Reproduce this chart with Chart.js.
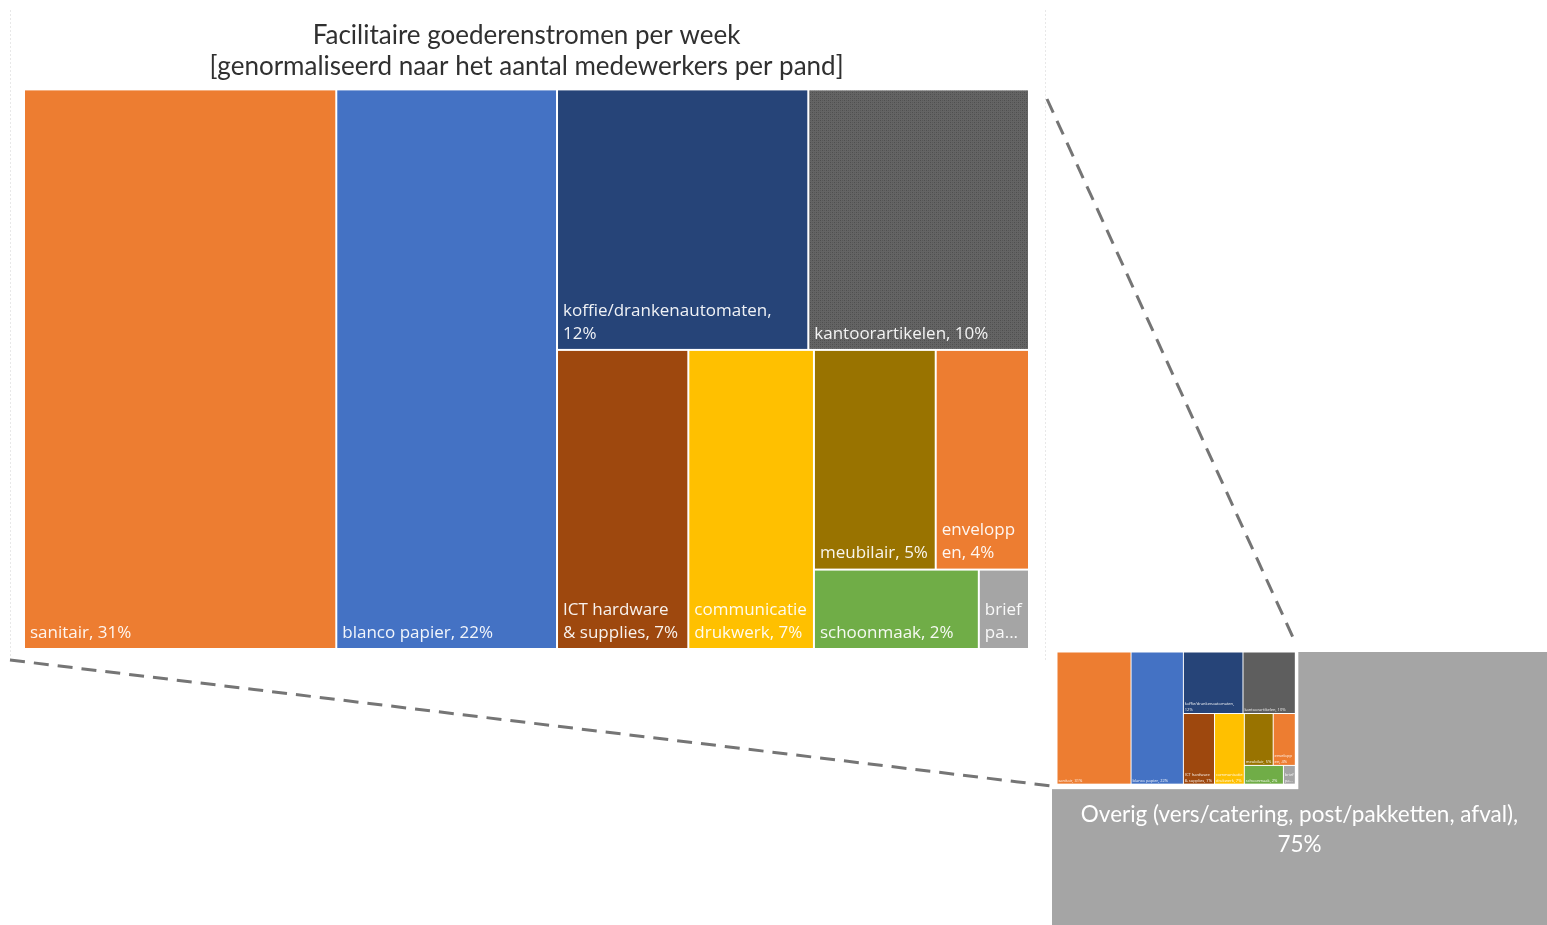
<!DOCTYPE html>
<html>
<head>
<meta charset="utf-8">
<script src="https://cdn.jsdelivr.net/npm/chart.js@4.4.1/dist/chart.umd.min.js"></script>
<style>
  html, body { margin: 0; padding: 0; background: #fff; }
  body { width: 1547px; height: 925px; position: relative; overflow: hidden; }
  canvas { position: absolute; display: block; }
  #main { left: 0; top: 0; }
  #zoom { left: 1052px; top: 644px; }
  svg { position: absolute; left: 0; top: 0; }
</style>
</head>
<body>
<canvas id="main" width="1050" height="665"></canvas>
<canvas id="zoom" width="495" height="281"></canvas>
<svg width="1547" height="925">
  <line x1="10.5" y1="10" x2="10.5" y2="660" stroke="#e8e8e8" stroke-width="1" stroke-dasharray="2 2"/>
  <line x1="1045.5" y1="10" x2="1045.5" y2="660" stroke="#e8e8e8" stroke-width="1" stroke-dasharray="2 2"/>
  <line x1="10" y1="660" x2="1052" y2="786" stroke="#757575" stroke-width="3" stroke-dasharray="15 9"/>
  <line x1="1047" y1="99" x2="1296" y2="644" stroke="#757575" stroke-width="3" stroke-dasharray="15 9"/>
</svg>
<script>
const titleLines = ['Facilitaire goederenstromen per week', '[genormaliseerd naar het aantal medewerkers per pand]'];
const categories = ['sanitair', 'blanco papier', 'koffie/drankenautomaten', 'kantoorartikelen',
  'ICT hardware & supplies', 'communicatie drukwerk', 'meubilair', 'enveloppen', 'schoonmaak', 'briefpapier'];
const values = [30.7, 21.7, 11.5, 10.1, 6.9, 6.6, 4.7, 3.6, 2.3, 0.7];
const overigLabel = 'Overig (vers/catering, post/pakketten, afval)';
// facilitaire stromen vs. overig, in %
const shares = [25, 75];

const palette = ['#ED7D31', '#4472C4', '#264478', '#5E5E5E', '#9E480E', '#FFC000', '#997300', '#ED7D31', '#70AD47', '#A5A5A5'];
const LABEL_FONT = '"Open Sans", sans-serif';
const WIDE_PENALTY = 2; // prefer upright cells so the labels fit

const total = values.reduce((a, b) => a + b, 0);
const labelText = (i) => categories[i] + ', ' + Math.round(values[i] / total * 100) + '%';

// speckled fill for kantoorartikelen
function speckle() {
  const c = document.createElement('canvas');
  c.width = 4; c.height = 4;
  const g = c.getContext('2d');
  g.fillStyle = '#646464';
  g.fillRect(0, 0, 4, 4);
  g.fillStyle = '#4e4e4e';
  g.fillRect(0, 0, 1, 1);
  g.fillRect(2, 2, 1, 1);
  g.fillStyle = '#585858';
  g.fillRect(2, 0, 1, 1);
  g.fillRect(0, 2, 1, 1);
  return c;
}

function rowScore(row, side, vertical) {
  const thick = row.reduce((a, b) => a + b, 0) / side;
  let worst = 0;
  row.forEach(a => {
    const len = a / thick;
    const cw = vertical ? thick : len;
    const ch = vertical ? len : thick;
    const r = cw > ch ? (cw / ch) * WIDE_PENALTY : ch / cw;
    worst = Math.max(worst, r);
  });
  return worst;
}

// squarified layout in a box of width ar and height 1
function squarify(vals, ar) {
  const sum = vals.reduce((a, b) => a + b, 0);
  const areas = vals.map(v => v * ar / sum);
  const rects = [];
  let x = 0, y = 0, w = ar, h = 1, i = 0;
  while (i < areas.length) {
    const vertical = w >= h;
    const side = vertical ? h : w;
    let row = [areas[i]];
    let best = rowScore(row, side, vertical);
    let j = i + 1;
    while (j < areas.length) {
      const next = row.concat(areas[j]);
      const s = rowScore(next, side, vertical);
      if (s > best) break;
      row = next; best = s; j++;
    }
    const thick = row.reduce((a, b) => a + b, 0) / side;
    let off = 0;
    row.forEach(a => {
      const len = a / thick;
      if (vertical) rects.push({ x0: x, y0: y + off, x1: x + thick, y1: y + off + len });
      else rects.push({ x0: x + off, y0: y, x1: x + off + len, y1: y + thick });
      off += len;
    });
    if (vertical) { x += thick; w -= thick; } else { y += thick; h -= thick; }
    i = j;
  }
  // back to 0..1 data units
  return rects.map(r => ({ x0: r.x0 / ar, x1: r.x1 / ar, y0: r.y0, y1: r.y1 }));
}

function wrapText(ctx, text, maxW, maxLines) {
  const words = text.split(' ');
  const lines = [];
  let cur = '';
  words.forEach(word => {
    const test = cur ? cur + ' ' + word : word;
    if (ctx.measureText(test).width <= maxW) { cur = test; return; }
    if (cur) lines.push(cur);
    cur = '';
    if (ctx.measureText(word).width <= maxW) { cur = word; return; }
    let part = '';
    for (const ch of word) {
      if (part && ctx.measureText(part + ch).width > maxW) { lines.push(part); part = ch; }
      else part += ch;
    }
    cur = part;
  });
  if (cur) lines.push(cur);
  if (lines.length > maxLines) {
    let last = lines[maxLines - 1];
    while (last.length > 1 && ctx.measureText(last + '...').width > maxW) last = last.slice(0, -1);
    lines.length = maxLines;
    lines[maxLines - 1] = last + '...';
  }
  return lines;
}

// cells + labels inside a pixel box; k scales fonts and gaps
function drawTreemap(ctx, box, k, fills) {
  const rects = squarify(values, box.w / box.h);
  rects.forEach((r, i) => {
    const left = box.x + r.x0 * box.w;
    const top = box.y + r.y0 * box.h;
    const w = (r.x1 - r.x0) * box.w;
    const h = (r.y1 - r.y0) * box.h;
    const gap = Math.max(0.5, k);
    ctx.fillStyle = fills[i];
    ctx.fillRect(left + gap, top + gap, w - 2 * gap, h - 2 * gap);

    const fontPx = 17 * k, lineH = 23 * k, pad = 6 * k;
    ctx.font = fontPx + 'px ' + LABEL_FONT;
    ctx.fillStyle = 'rgba(255,255,255,0.93)';
    ctx.textAlign = 'left';
    ctx.textBaseline = 'middle';
    const maxLines = Math.max(1, Math.floor((h - 14 * k) / lineH));
    const lines = wrapText(ctx, labelText(i), w - 2 * pad, maxLines);
    lines.forEach((ln, n) => {
      const yy = top + h - 16 * k - (lines.length - 1 - n) * lineH;
      ctx.fillText(ln, left + pad, yy);
    });
  });
}

function boxFromScales(chart, x0, y0, x1, y1) {
  const sx = chart.scales.x, sy = chart.scales.y;
  const l = sx.getPixelForValue(x0), r = sx.getPixelForValue(x1);
  const t = sy.getPixelForValue(y0), b = sy.getPixelForValue(y1);
  return { x: l, y: t, w: r - l, h: b - t };
}

const baseOptions = (extra) => Object.assign({
  responsive: false,
  animation: false,
  events: [],
  scales: {
    x: { type: 'linear', min: 0, max: 1, display: false },
    y: { type: 'linear', min: 0, max: 1, display: false, reverse: true }
  }
}, extra);

let mainAspect = 1.8;

const mainChart = new Chart(document.getElementById('main'), {
  type: 'scatter',
  data: { datasets: [{ data: [] }] },
  options: baseOptions({
    layout: { padding: { left: 24, right: 21, bottom: 16, top: 0 } },
    plugins: {
      legend: { display: false },
      tooltip: { enabled: false },
      title: {
        display: true,
        text: titleLines,
        color: '#303030',
        font: { family: 'Lato', size: 26, weight: 'normal', lineHeight: 1.2 },
        padding: { top: 20, bottom: 7 }
      }
    }
  }),
  plugins: [{
    id: 'treemapMain',
    afterDatasetsDraw(chart) {
      const ctx = chart.ctx;
      const box = boxFromScales(chart, 0, 0, 1, 1);
      mainAspect = box.w / box.h;
      const tex = ctx.createPattern(speckle(), 'repeat');
      const fills = palette.map((c, i) => i === 3 ? tex : c);
      ctx.save();
      drawTreemap(ctx, box, 1, fills);
      ctx.restore();
    }
  }]
});

new Chart(document.getElementById('zoom'), {
  type: 'scatter',
  data: { datasets: [{ data: [] }] },
  options: baseOptions({
    layout: { padding: { top: 8, left: 0, right: 0, bottom: 0 } },
    plugins: { legend: { display: false }, tooltip: { enabled: false }, title: { display: false } }
  }),
  plugins: [{
    id: 'treemapZoom',
    afterDatasetsDraw(chart) {
      const ctx = chart.ctx;
      const all = boxFromScales(chart, 0, 0, 1, 1);
      ctx.save();
      // Overig fills the whole block
      ctx.fillStyle = '#A5A5A5';
      ctx.fillRect(all.x, all.y, all.w, all.h);

      // facilitaire group, same proportions as the large treemap
      const frac = shares[0] / (shares[0] + shares[1]);
      const area = frac * all.w * all.h;
      const gw = Math.sqrt(area * mainAspect);
      const gh = area / gw;
      const g = boxFromScales(chart, 0, 0, gw / all.w, gh / all.h);
      ctx.fillStyle = '#ffffff';
      ctx.fillRect(g.x, g.y - 4, g.w, g.h + 4);
      const inner = { x: g.x + 5, y: g.y, w: g.w - 8, h: g.h - 5 };
      drawTreemap(ctx, inner, inner.w / (mainChart.chartArea.right - mainChart.chartArea.left), palette);

      // Overig label
      ctx.font = '22.5px Lato, sans-serif';
      ctx.fillStyle = '#ffffff';
      ctx.textAlign = 'center';
      ctx.textBaseline = 'middle';
      const lines = wrapText(ctx, overigLabel + ', ' + shares[1] + '%', all.w - 40, 3);
      lines.forEach((ln, n) => ctx.fillText(ln, all.x + all.w / 2, g.y + g.h + 26 + n * 30));
      ctx.restore();
    }
  }]
});
</script>
</body>
</html>
